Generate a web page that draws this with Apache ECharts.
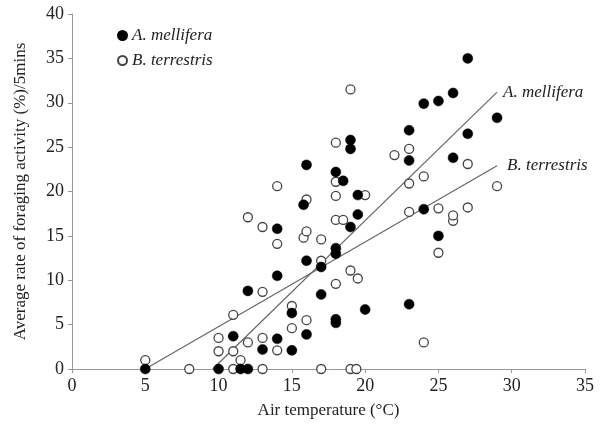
<!DOCTYPE html>
<html>
<head>
<meta charset="utf-8">
<script src="https://cdn.jsdelivr.net/npm/echarts@6/dist/echarts.min.js"></script>
<style>
html, body { margin: 0; padding: 0; background: #fff; }
#chart { width: 603px; height: 425px; }
</style>
</head>
<body>
<div id="chart"></div>
<script>
// A. mellifera observations [air temp, rate]
var melliferaPoints = [
	[5, 0], [10, 0], [11.5, 0], [12, 0], [11, 3.7], [12, 8.8], [13, 2.2], [14, 3.4],
	[14, 10.5], [14, 15.8], [15, 2.1], [15, 6.3], [16, 3.9], [16, 12.2], [15.8, 18.5],
	[16, 23], [17, 8.4], [17, 11.5], [18, 5.6], [18, 5.2], [18, 13], [18, 13.6],
	[18, 22.2], [18.5, 21.2], [19, 16], [19.5, 17.4], [19.5, 19.6], [19, 24.8],
	[19, 25.8], [20, 6.7], [23, 7.3], [23, 23.5], [23, 26.9], [24, 18], [24, 29.9],
	[25, 15], [25, 30.2], [26, 23.8], [26, 31.1], [27, 26.5], [27, 35], [29, 28.3]
];
// B. terrestris observations
var terrestrisPoints = [
	[5, 1], [8, 0], [10, 2], [10, 3.5], [11, 0], [11, 2], [11, 6.1], [11.5, 1],
	[12, 3], [12, 17.1], [13, 0], [13, 3.5], [13, 8.7], [13, 16], [14, 2.1],
	[14, 14.1], [14, 20.6], [15, 4.6], [15, 7.1], [15.8, 14.8], [16, 5.5], [16, 15.5],
	[16, 19.1], [17, 0], [17, 12.2], [17, 14.6], [18, 9.6], [18, 16.8], [18, 19.5],
	[18, 21.1], [18, 25.5], [18.5, 16.8], [19, 0], [19, 11.1], [19, 31.5], [19.4, 0],
	[19.5, 10.2], [20, 19.6], [22, 24.1], [23, 17.7], [23, 20.9], [23, 24.8], [24, 3],
	[24, 21.7], [25, 13.1], [25, 18.1], [26, 16.7], [26, 17.3], [27, 18.2], [27, 23.1],
	[29, 20.6]
];
// fitted lines (start, end)
var melliferaFit = [[9.6, 0], [29, 31.2]];
var terrestrisFit = [[5.2, 0.2], [29, 22.9]];

var xTicks = [0, 5, 10, 15, 20, 25, 30, 35];
var yTicks = [0, 5, 10, 15, 20, 25, 30, 35, 40];

var serif = '"Liberation Serif", "Times New Roman", serif';

var chart = echarts.init(document.getElementById('chart'));
var option = {
	animation : false,
	textStyle : { fontFamily : serif },
	grid : { left : 72, right : 18, top : 14, bottom : 56 },
	legend : {
		orient : 'vertical',
		left : 112,
		top : 22,
		itemWidth : 9,
		itemHeight : 9,
		itemGap : 8,
		data : [ 'A. mellifera', 'B. terrestris' ],
		textStyle : { fontFamily : serif, fontStyle : 'italic', fontSize : 17, color : '#222' }
	},
	xAxis : {
		type : 'value',
		min : xTicks[0],
		max : xTicks[xTicks.length - 1],
		interval : 5,
		name : 'Air temperature (°C)',
		nameLocation : 'middle',
		nameGap : 33,
		nameTextStyle : { fontFamily : serif, fontSize : 17, color : '#222' },
		axisLine : { lineStyle : { color : '#999' } },
		axisTick : { show : true, length : 4, lineStyle : { color : '#999' } },
		axisLabel : { fontFamily : serif, fontSize : 18, color : '#222', margin : 8 },
		splitLine : { show : false }
	},
	yAxis : {
		type : 'value',
		min : yTicks[0],
		max : yTicks[yTicks.length - 1],
		interval : 5,
		name : 'Average rate of foraging activity (%)/5mins',
		nameLocation : 'middle',
		nameGap : 43,
		nameTextStyle : { fontFamily : serif, fontSize : 17, color : '#222' },
		axisLine : { show : true, lineStyle : { color : '#999' } },
		axisTick : { show : true, length : 4, lineStyle : { color : '#999' } },
		axisLabel : { fontFamily : serif, fontSize : 18, color : '#222', margin : 8 },
		splitLine : { show : false }
	},
	series : [ {
		name : 'A. mellifera fit',
		type : 'line',
		data : melliferaFit,
		symbol : 'none',
		silent : true,
		z : 1,
		lineStyle : { color : '#666', width : 1.2 },
		endLabel : {
			show : true,
			formatter : 'A. mellifera',
			distance : 6,
			fontFamily : serif,
			fontStyle : 'italic',
			fontSize : 17,
			color : '#222'
		}
	}, {
		name : 'B. terrestris fit',
		type : 'line',
		data : terrestrisFit,
		symbol : 'none',
		silent : true,
		z : 1,
		lineStyle : { color : '#666', width : 1.2 },
		endLabel : {
			show : true,
			formatter : 'B. terrestris',
			distance : 10,
			fontFamily : serif,
			fontStyle : 'italic',
			fontSize : 17,
			color : '#222'
		}
	}, {
		name : 'A. mellifera',
		type : 'scatter',
		data : melliferaPoints,
		symbol : 'circle',
		symbolSize : 10,
		z : 3,
		itemStyle : { color : '#000', borderColor : '#000', borderWidth : 0.5, opacity : 1 }
	}, {
		name : 'B. terrestris',
		type : 'scatter',
		data : terrestrisPoints,
		symbol : 'circle',
		symbolSize : 9,
		z : 2,
		itemStyle : { color : '#fff', borderColor : '#444', borderWidth : 1.3, opacity : 1 }
	} ]
};
chart.setOption(option);
</script>
</body>
</html>
